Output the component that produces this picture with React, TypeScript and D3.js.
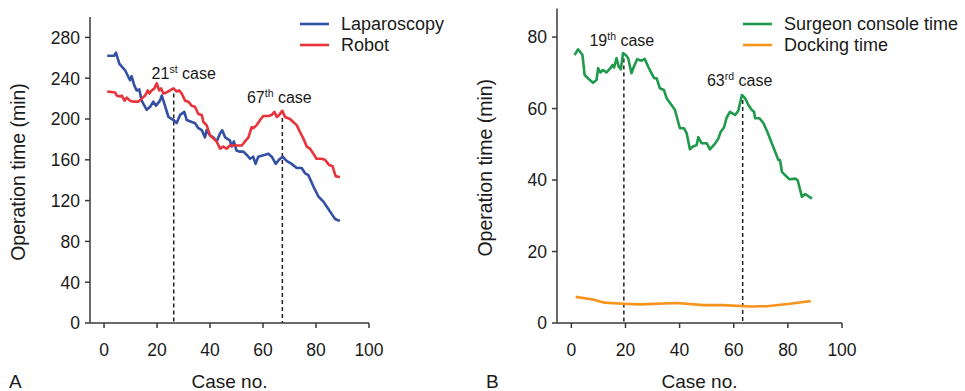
import { useMemo } from "react";
import * as d3 from "d3";

/* ------------------------------------------------------------------ */
/*  Data                                        */
/* ------------------------------------------------------------------ */

type Pt = [number, number];

const laparoscopy: Pt[] = [
  [1.2, 262], [3.8, 262], [4.5, 265], [5.8, 254], [7.9, 248], [9.8, 238], [10.4, 242],
  [11.4, 233], [12.3, 228], [13.3, 229], [14.2, 218], [16.1, 209], [17.4, 212], [18.6, 217],
  [19.6, 213], [21.1, 218], [21.8, 223], [23, 213], [24.3, 202], [26.2, 199], [27.4, 196],
  [28.7, 204], [30.3, 207], [31.2, 199], [33.1, 197], [34.3, 196], [35.6, 191], [36.9, 189],
  [38.1, 182], [38.7, 189], [40, 184], [41.2, 182], [42.5, 178], [43.8, 186], [44.6, 189],
  [45.7, 182], [47.5, 179], [48.2, 173], [49, 178], [50, 169], [51.3, 168], [52.6, 168],
  [53.8, 165], [55.1, 161], [56.3, 163], [57.2, 156], [58.2, 163], [59.5, 164], [60.8, 165],
  [62, 166], [63.3, 163], [64.8, 156], [66, 160], [67.4, 163], [68.9, 159], [70.8, 156],
  [72.7, 152], [74.6, 152], [75.8, 147], [77.1, 145], [79, 134], [80.9, 124], [82.8, 119],
  [84.6, 112], [85.9, 107], [87.2, 102], [89, 100],
];

const robot: Pt[] = [
  [1.2, 227], [4.2, 226], [4.8, 223], [6, 222], [6.7, 223], [7.7, 218], [8.6, 221],
  [9.8, 218], [11.1, 217], [13, 217], [14.2, 220], [15.5, 223], [16.5, 228], [17.1, 225],
  [18, 228], [19, 230], [19.9, 235], [20.8, 228], [21.5, 230], [22.4, 225], [23.6, 226],
  [24.9, 228], [26.2, 230], [27.4, 227], [28.3, 228], [29.3, 225], [30.6, 218], [31.8, 217],
  [33.1, 213], [34.3, 212], [35.6, 205], [36.9, 204], [37.5, 197], [38.7, 194], [40, 184],
  [41.2, 181], [42.5, 178], [43.8, 171], [45, 173], [46.3, 171], [47.5, 174], [48.8, 174],
  [52, 174], [53.2, 178], [54.5, 182], [55.7, 192], [56.3, 191], [57.6, 194], [58.9, 199],
  [60.1, 203], [62, 203], [63.3, 204], [64.3, 207], [65.2, 202], [66.1, 204], [67.3, 208],
  [68.3, 202], [70.2, 200], [71.4, 197], [72.7, 194], [74, 187], [75.2, 181], [76.5, 173],
  [77.7, 171], [79, 166], [80.2, 161], [82.1, 161], [83.4, 160], [84.9, 155], [86.2, 154],
  [87.4, 144], [89, 143],
];

const consoleTime: Pt[] = [
  [1.2, 75], [2.5, 76.6], [4.1, 75], [4.9, 69.4], [6.1, 68.5], [8, 67.2], [9.3, 68],
  [9.9, 71.3], [10.7, 70.1], [11.7, 70.8], [13, 70.1], [14.4, 71.3], [15.2, 72.2],
  [15.8, 71.5], [16.7, 74.1], [17.5, 71.7], [18.3, 71], [19.1, 75.5], [20.1, 75], [21, 74.1],
  [22.2, 69.9], [23.1, 71.7], [24.3, 73.8], [25.9, 73.4], [27.1, 73.9], [28.4, 71.7],
  [29.6, 69.9], [30.6, 68.5], [31.5, 68.5], [32.7, 65.7], [34.2, 65.2], [35.2, 62.9],
  [37, 61], [38.3, 59.6], [39.1, 57.3], [40.1, 54.5], [41.6, 54.5], [42.6, 53.1],
  [43.8, 48.6], [44.8, 49.3], [46.3, 49.8], [46.9, 52], [48.1, 50.3], [50, 50.3],
  [51.2, 48.6], [53.1, 50.2], [54.3, 51.6], [55.2, 53.5], [56.4, 54.7], [57.4, 57.5],
  [58.6, 59.1], [60.5, 58.2], [61.7, 59.4], [63, 63.8], [64.2, 62.9], [65.4, 61],
  [66.7, 59.6], [67.5, 59.1], [67.9, 57.3], [69.5, 57.3], [71, 55.9], [72.4, 53.5],
  [74.1, 50.2], [75.3, 47.9], [76.5, 45.6], [77.1, 45.6], [77.8, 42.3], [79.6, 40.9],
  [80.6, 40.2], [82.7, 40.4], [83.6, 40], [85.2, 35.3], [86.4, 36.1], [88.9, 34.8],
];

const dockingTime: Pt[] = [
  [1.6, 7.3], [8, 6.6], [12.3, 5.7], [19.1, 5.4], [25.3, 5.2], [38.9, 5.6], [48.7, 5.0],
  [56.1, 5.0], [66, 4.6], [72.2, 4.7], [80.8, 5.4], [85.8, 5.9], [88.5, 6.1],
];

// vertical markers: [case, top of dashed line]
const markersA: Pt[] = [[26.3, 225], [67.3, 201]];
const markersB: Pt[] = [[19.4, 74], [63.3, 62.4]];

const labelsA = [{ num: "21", sup: "st" }, { num: "67", sup: "th" }];
const labelsB = [{ num: "19", sup: "th" }, { num: "63", sup: "rd" }];

const xTicks = [0, 20, 40, 60, 80, 100];
const yTicksA = [0, 40, 80, 120, 160, 200, 240, 280];
const yTicksB = [0, 20, 40, 60, 80];

/* ------------------------------------------------------------------ */
/*  Styling                                                           */
/* ------------------------------------------------------------------ */

const FONT = "'Liberation Sans', Arial, Helvetica, sans-serif";
const AXIS = "#3a3a3a";
const BLUE = "#3450a4";
const RED = "#e8333b";
const GREEN = "#1f9a4c";
const ORANGE = "#f7941d";

interface Series {
  name: string;
  data: Pt[];
  color: string;
}

interface PanelProps {
  letter: string;
  letterX: number;
  left: number;
  right: number;
  top: number;
  bottom: number;
  yMax: number;
  yTicks: number[];
  series: Series[];
  markers: Pt[];
  labels: { num: string; sup: string }[];
  labelPos: { dx: number; y: number }[];
  legendX: number;
}

function Panel(p: PanelProps) {
  const x = useMemo(
    () => d3.scaleLinear().domain([-5.3, 100]).range([p.left, p.right]),
    [p.left, p.right],
  );
  const y = useMemo(
    () => d3.scaleLinear().domain([0, p.yMax]).range([p.bottom, p.top]),
    [p.bottom, p.top, p.yMax],
  );
  const line = d3
    .line<Pt>()
    .x((d) => x(d[0]))
    .y((d) => y(d[1]));

  return (
    <g fontFamily={FONT} fill="#1a1a1a">
      {/* dashed markers */}
      {p.markers.map((m, i) => (
        <line
          key={`m${i}`}
          x1={x(m[0])}
          x2={x(m[0])}
          y1={y(m[1])}
          y2={p.bottom}
          stroke="#222"
          strokeWidth={1.5}
          strokeDasharray="4 3"
        />
      ))}

      {/* series */}
      {p.series.map((s) => (
        <path
          key={s.name}
          d={line(s.data) ?? ""}
          fill="none"
          stroke={s.color}
          strokeWidth={2.6}
          strokeLinejoin="round"
        />
      ))}

      {/* marker labels */}
      {p.labels.map((l, i) => (
        <text key={`l${i}`} x={x(p.markers[i][0]) + p.labelPos[i].dx} y={p.labelPos[i].y} fontSize={16} textAnchor="middle">
          {l.num}
          <tspan fontSize={10.5} dy={-6}>{l.sup}</tspan>
          <tspan dy={6}> case</tspan>
        </text>
      ))}

      {/* axes */}
      <line x1={p.left} x2={p.left} y1={p.top} y2={p.bottom} stroke={AXIS} strokeWidth={1.5} />
      <line x1={p.left} x2={p.right} y1={p.bottom} y2={p.bottom} stroke={AXIS} strokeWidth={1.5} />
      {p.yTicks.map((t) => (
        <g key={`y${t}`}>
          <line x1={p.left - 5} x2={p.left} y1={y(t)} y2={y(t)} stroke={AXIS} strokeWidth={1.5} />
          <text x={p.left - 10} y={y(t)} dy="0.36em" textAnchor="end" fontSize={17.5}>
            {t}
          </text>
        </g>
      ))}
      {xTicks.map((t) => (
        <g key={`x${t}`}>
          <line x1={x(t)} x2={x(t)} y1={p.bottom} y2={p.bottom + 5} stroke={AXIS} strokeWidth={1.5} />
          <text x={x(t)} y={p.bottom + 33} textAnchor="middle" fontSize={17.5}>
            {t}
          </text>
        </g>
      ))}

      {/* axis titles */}
      <text
        transform={`translate(${p.left - 65},${(p.top + p.bottom) / 2 + 2}) rotate(-90)`}
        textAnchor="middle"
        fontSize={19.5}
      >
        Operation time (min)
      </text>
      <text x={(p.left + p.right) / 2} y={388} textAnchor="middle" fontSize={19}>
        Case no.
      </text>
      <text x={p.letterX} y={388} fontSize={19}>
        {p.letter}
      </text>

      {/* legend */}
      {p.series.map((s, i) => (
        <g key={`lg${s.name}`} transform={`translate(${p.legendX},${24 + i * 21})`}>
          <line x1={0} x2={29} y1={0} y2={0} stroke={s.color} strokeWidth={2.6} />
          <text x={41} y={0} dy="0.35em" fontSize={18}>
            {s.name}
          </text>
        </g>
      ))}
    </g>
  );
}

export default function App() {
  return (
    <svg
      width={965}
      height={391}
      style={{ position: "absolute", left: 0, top: 0, background: "#fff" }}
    >
      <Panel
        letter="A"
        letterX={9}
        left={90}
        right={369}
        top={17}
        bottom={323}
        yMax={300}
        yTicks={yTicksA}
        series={[
          { name: "Laparoscopy", data: laparoscopy, color: BLUE },
          { name: "Robot", data: robot, color: RED },
        ]}
        markers={markersA}
        labels={labelsA}
        labelPos={[{ dx: 10, y: 79 }, { dx: -3, y: 103 }]}
        legendX={300}
      />
      <Panel
        letter="B"
        letterX={486}
        left={557}
        right={842}
        top={8.5}
        bottom={323}
        yMax={88}
        yTicks={yTicksB}
        series={[
          { name: "Surgeon console time", data: consoleTime, color: GREEN },
          { name: "Docking time", data: dockingTime, color: ORANGE },
        ]}
        markers={markersB}
        labels={labelsB}
        labelPos={[{ dx: -2, y: 46 }, { dx: -3, y: 86 }]}
        legendX={743}
      />
    </svg>
  );
}
